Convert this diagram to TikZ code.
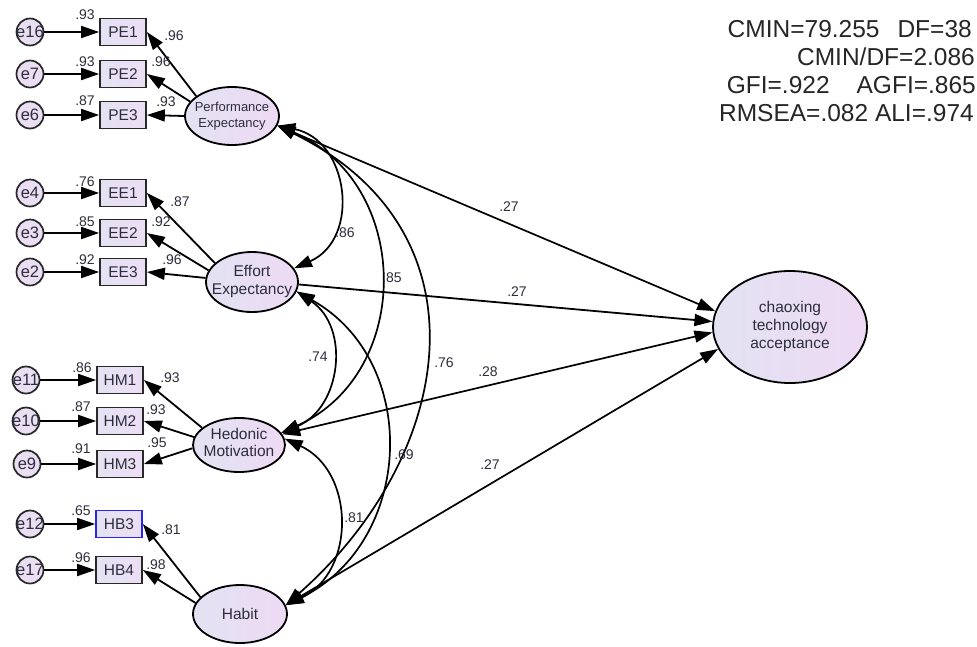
\documentclass[tikz,border=0pt]{standalone}
\usepackage{fontspec}
\setmainfont{Liberation Sans}
\usetikzlibrary{arrows.meta,shapes.geometric}
\definecolor{txt}{RGB}{45,45,60}
\definecolor{fillL}{RGB}{226,226,242}
\definecolor{fillR}{RGB}{238,218,244}
\definecolor{boxL}{RGB}{228,226,242}
\definecolor{boxR}{RGB}{236,222,244}
\definecolor{efill}{RGB}{234,222,242}
\definecolor{edge}{RGB}{40,40,40}
\definecolor{hbblue}{RGB}{40,40,235}
\newcommand\ztext[1]{\makebox[0pt]{#1}}
\begin{document}
\begin{tikzpicture}[x=1pt,y=-1pt,
  obs/.style={draw=edge, line width=1.7pt, left color=boxL, right color=boxR,
    minimum width=46pt, minimum height=27pt, inner sep=0pt,
    font=\fontsize{15.5}{17}\selectfont, text=txt},
  err/.style={circle, draw=edge, line width=1.7pt, fill=efill, minimum size=27pt,
    inner sep=0pt, font=\fontsize{16.5}{18}\selectfont, text=txt},
  lat/.style={ellipse, draw=black, line width=1.8pt, left color=fillL, right color=fillR,
    inner sep=0pt, font=\fontsize{15.5}{18}\selectfont, text=txt},
  coef/.style={font=\fontsize{14}{16}\selectfont, text=txt, inner sep=0pt},
  stat/.style={font=\fontsize{24.5}{28}\selectfont, text=black!85, inner sep=0pt, anchor=base east},
  arr/.style={line width=1.8pt, -{Triangle[length=18pt,width=12pt]}},
  darr/.style={line width=1.7pt, {Triangle[length=18pt,width=12pt]}-{Triangle[length=18pt,width=12pt]}},
]
\useasboundingbox[fill=white] (0,0) rectangle (977,646);

% latent variables
\node[lat, minimum width=94pt, minimum height=58pt, font=\fontsize{13}{16.5}\selectfont] (PE) at (232,116)
  {\ztext{\begin{tabular}{@{}c@{}}Performance\\Expectancy\end{tabular}}};
\node[lat, minimum width=92pt, minimum height=60pt] (EE) at (252,282)
  {\ztext{\begin{tabular}{@{}c@{}}Effort\\Expectancy\end{tabular}}};
\node[lat, minimum width=92pt, minimum height=54pt, font=\fontsize{15.5}{17}\selectfont] (HM) at (239,445)
  {\ztext{\begin{tabular}{@{}c@{}}Hedonic\\Motivation\end{tabular}}};
\node[lat, minimum width=94pt, minimum height=58pt] (Habit) at (240,614) {\ztext{Habit}};
\node[lat, minimum width=154pt, minimum height=112pt] (CT) at (790,327)
  {\ztext{\begin{tabular}{@{}c@{}}chaoxing\\technology\\acceptance\end{tabular}}};

% observed variables
\node[obs] (PE1) at (123,32) {PE1};
\node[obs] (PE2) at (123,74) {PE2};
\node[obs] (PE3) at (123,115) {PE3};
\node[obs] (EE1) at (123,193) {EE1};
\node[obs] (EE2) at (123,233) {EE2};
\node[obs] (EE3) at (123,272) {EE3};
\node[obs] (HM1) at (120,380) {HM1};
\node[obs] (HM2) at (120,421) {HM2};
\node[obs] (HM3) at (120,464) {HM3};
\node[obs, draw=hbblue] (HB3) at (119,524) {HB3};
\node[obs] (HB4) at (119,570) {HB4};

% error terms
\node[err] (e16) at (30,32) {\ztext{e16}};
\node[err] (e7) at (30,74) {\ztext{e7}};
\node[err] (e6) at (30,115) {\ztext{e6}};
\node[err] (e4) at (30,193) {\ztext{e4}};
\node[err] (e3) at (30,233) {\ztext{e3}};
\node[err] (e2) at (30,272) {\ztext{e2}};
\node[err] (e11) at (26,380) {\ztext{e11}};
\node[err] (e10) at (26,421) {\ztext{e10}};
\node[err] (e9) at (27,464) {\ztext{e9}};
\node[err] (e12) at (30,524) {\ztext{e12}};
\node[err] (e17) at (30,570) {\ztext{e17}};

% error arrows
\foreach \e/\o in {e16/PE1,e7/PE2,e6/PE3,e4/EE1,e3/EE2,e2/EE3,e11/HM1,e10/HM2,e9/HM3,e12/HB3,e17/HB4}
  \draw[arr] (\e) -- (\o);

% loadings
\draw[arr] (PE.151) -- (PE1.east);
\draw[arr] (PE.161) -- (PE2.east);
\draw[arr] (PE.180) -- (PE3.east);
\draw[arr] (EE.153) -- (EE1.east);
\draw[arr] (EE.165) -- (EE2.east);
\draw[arr] (EE.175) -- (EE3.east);
\draw[arr] (HM.155) -- (HM1.east);
\draw[arr] (HM.170) -- (HM2.east);
\draw[arr] (HM.184) -- (HM3.east);
\draw[arr] (Habit.157) -- (HB3.east);
\draw[arr] (Habit.166) -- (HB4.east);

% correlations
\draw[darr] (PE.-12) .. controls +(72,14.5) and +(67,-29.5) .. (EE.18);
\draw[darr] (PE.-12) .. controls +(135,57) and +(133,-60) .. (HM.16);
\draw[darr] (PE.-12) .. controls +(215,105) and +(170,-150) .. (Habit.11);
\draw[darr] (EE.-12) .. controls +(54,36) and +(60,-25) .. (HM.16);
\draw[darr] (EE.-12) .. controls +(125,70) and +(128,-63) .. (Habit.11);
\draw[darr] (HM.8) .. controls +(71,33) and +(70,-33) .. (Habit.11);

% structural paths
\draw[darr] (PE.-12) -- (CT.168);
\draw[arr] (EE.-3) -- (CT.176);
\draw[darr] (HM.14) -- (CT.184);
\draw[darr] (Habit.11) -- (CT.197);

% coefficient labels: error terms
\node[coef] (r1) at (85,15) {.93};
\node[coef] (r2) at (85,62) {.93};
\node[coef] (r3) at (85,101) {.87};
\node[coef] (r4) at (85,182) {.76};
\node[coef] (r5) at (85,222) {.85};
\node[coef] (r6) at (85,260) {.92};
\node[coef] (r7) at (82,368) {.86};
\node[coef] (r8) at (81,407) {.87};
\node[coef] (r9) at (81,449) {.91};
\node[coef] (r10) at (81,511) {.65};
\node[coef] (r11) at (81,558) {.96};
% loadings
\node[coef] (l1) at (174,36) {.96};
\node[coef] (l2) at (161,62) {.96};
\node[coef] (l3) at (166,102) {.93};
\node[coef] (l4) at (180,202) {.87};
\node[coef] (l5) at (161,222) {.92};
\node[coef] (l6) at (172,260) {.96};
\node[coef] (l7) at (170,378) {.93};
\node[coef] (l8) at (156,410) {.93};
\node[coef] (l9) at (157,443) {.95};
\node[coef] (l10) at (171,530) {.81};
\node[coef] (l11) at (156,565) {.98};
% correlations
\node[coef] (k1) at (345,233) {.86};
\node[coef] (k2) at (392,278) {.85};
\node[coef] (k3) at (444,363) {.76};
\node[coef] (k4) at (318,357) {.74};
\node[coef] (k5) at (404,455) {.69};
\node[coef] (k6) at (354,518) {.81};
% paths
\node[coef] (p1) at (509,207) {.27};
\node[coef] (p2) at (517,292) {.27};
\node[coef] (p3) at (488,372) {.28};
\node[coef] (p4) at (490,465) {.27};

% fit statistics
\node[stat] (s1) at (972,37) {CMIN=79.255\hspace{18pt}DF=38};
\node[stat] (s2) at (975,65) {CMIN/DF=2.086};
\node[stat] (s3) at (976,93) {GFI=.922\hspace{27pt}AGFI=.865};
\node[stat] (s4) at (974,121) {RMSEA=.082 ALI=.974};
\end{tikzpicture}
\end{document}
